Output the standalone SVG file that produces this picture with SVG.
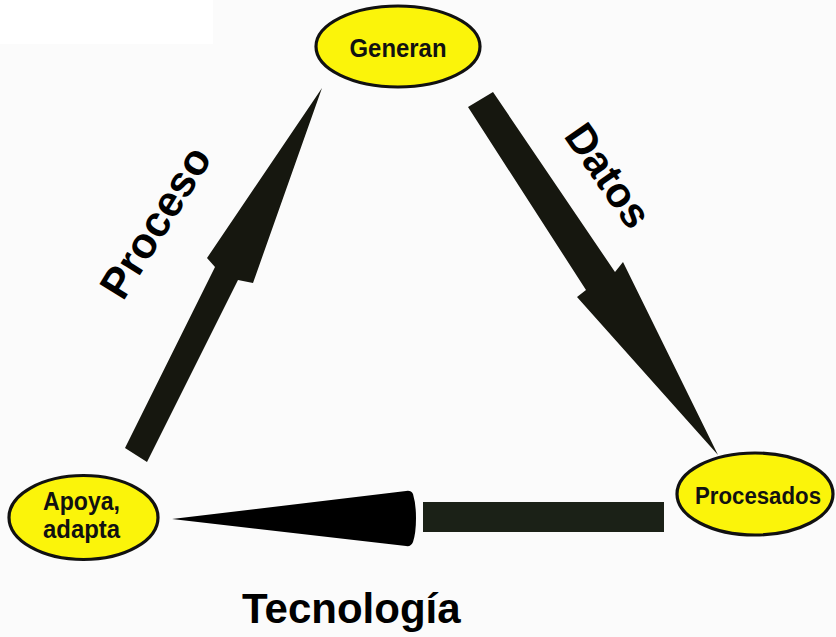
<svg xmlns="http://www.w3.org/2000/svg" width="836" height="637" viewBox="0 0 836 637">
  <style>
    .node ellipse { fill: #fbf40a; stroke: #111; stroke-width: 3.2; }
    .node text { font-family: "Liberation Sans", Arial, sans-serif; font-weight: bold; font-size: 26px; fill: #111; text-anchor: middle; }
    .node text.small { font-size: 23px; }
    .arrow { fill: #16170f; }
    .label { font-family: "Liberation Sans", Arial, sans-serif; font-weight: bold; fill: #000; }
  </style>

  <!-- page -->
  <rect x="0" y="0" width="836" height="637" fill="#fbfbfb"/>
  <rect x="0" y="0" width="213" height="44" fill="#ffffff"/>

  <!-- connectors: block arrows around the cycle -->
  <g id="connectors">
    <!-- Generan -> Procesados -->
    <polygon class="arrow" points="468,107 493,92 615,272 623,262 718,455 577,297 586,290"/>
    <!-- Procesados -> Apoya, adapta -->
    <rect x="423" y="502" width="241" height="30" fill="#1b2117"/>
    <path fill="#000" d="M172,519 L406,491 Q411,490 413,494 Q416,504 416,518 Q416,533 413,542 Q411,547 406,546 Z"/>
    <!-- Apoya, adapta -> Generan -->
    <polygon class="arrow" points="125,448 147,462 238,280 253,283 322,88 207,258 215,267"/>
  </g>

  <!-- connector labels -->
  <text class="label" font-size="42" transform="translate(563,136) rotate(55)">Datos</text>
  <text class="label" font-size="43" transform="translate(123,302) rotate(-58)">Proceso</text>
  <text class="label" font-size="42" x="242" y="623">Tecnología</text>

  <g id="generan" class="node">
    <ellipse cx="398" cy="46.5" rx="82" ry="40.5"/>
    <text x="398" y="57" textLength="97" lengthAdjust="spacingAndGlyphs">Generan</text>
  </g>

  <g id="procesados" class="node">
    <ellipse cx="755" cy="494" rx="78" ry="41"/>
    <text class="small" x="758" y="504" textLength="126" lengthAdjust="spacingAndGlyphs">Procesados</text>
  </g>

  <g id="apoya" class="node">
    <ellipse cx="83.5" cy="517.5" rx="74.5" ry="42"/>
    <text x="81.5" y="510" textLength="77" lengthAdjust="spacingAndGlyphs">Apoya,</text>
    <text x="81.5" y="538" textLength="77" lengthAdjust="spacingAndGlyphs">adapta</text>
  </g>
</svg>
